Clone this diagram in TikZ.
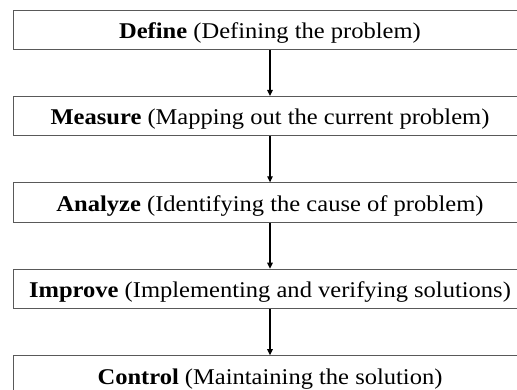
\documentclass[tikz,border=0pt]{standalone}
\usepackage{fontspec}
\setmainfont{Liberation Serif}
\usetikzlibrary{arrows.meta}
\tikzset{
  stagebox/.style={draw=black!65, line width=0.9pt, fill=white, rectangle,
    minimum width=514pt, inner xsep=0pt, inner ysep=0pt,
    text height=28.5pt, text depth=11pt,
    font=\fontsize{22.5}{27}\selectfont},
  flowarrow/.style={draw=black, line width=1.2pt, -{Triangle[length=6pt,width=5.5pt]}}
}
\newcommand{\stretchtext}[1]{\scalebox{1.09}[1]{#1}}
\begin{document}
\begin{tikzpicture}[x=1pt,y=-1pt]
\useasboundingbox (0,0) rectangle (517,390);
\fill[white] (0,0) rectangle (517,390);
\clip (0,0) rectangle (517,390);
\node[stagebox] (define)  at (270,29.75)  {\stretchtext{\textbf{Define} (Defining the problem)}};
\node[stagebox] (measure) at (270,116.15) {\stretchtext{\textbf{Measure} (Mapping out the current problem)}};
\node[stagebox] (analyze) at (270,202.55) {\stretchtext{\textbf{Analyze} (Identifying the cause of problem)}};
\node[stagebox] (improve) at (270,288.95) {\stretchtext{\textbf{Improve} (Implementing and verifying solutions)}};
\node[stagebox] (control) at (270,375.35) {\stretchtext{\textbf{Control} (Maintaining the solution)}};
\draw[flowarrow] (define.south) -- (measure.north);
\draw[flowarrow] (measure.south) -- (analyze.north);
\draw[flowarrow] (analyze.south) -- (improve.north);
\draw[flowarrow] (improve.south) -- (control.north);
\end{tikzpicture}
\end{document}
